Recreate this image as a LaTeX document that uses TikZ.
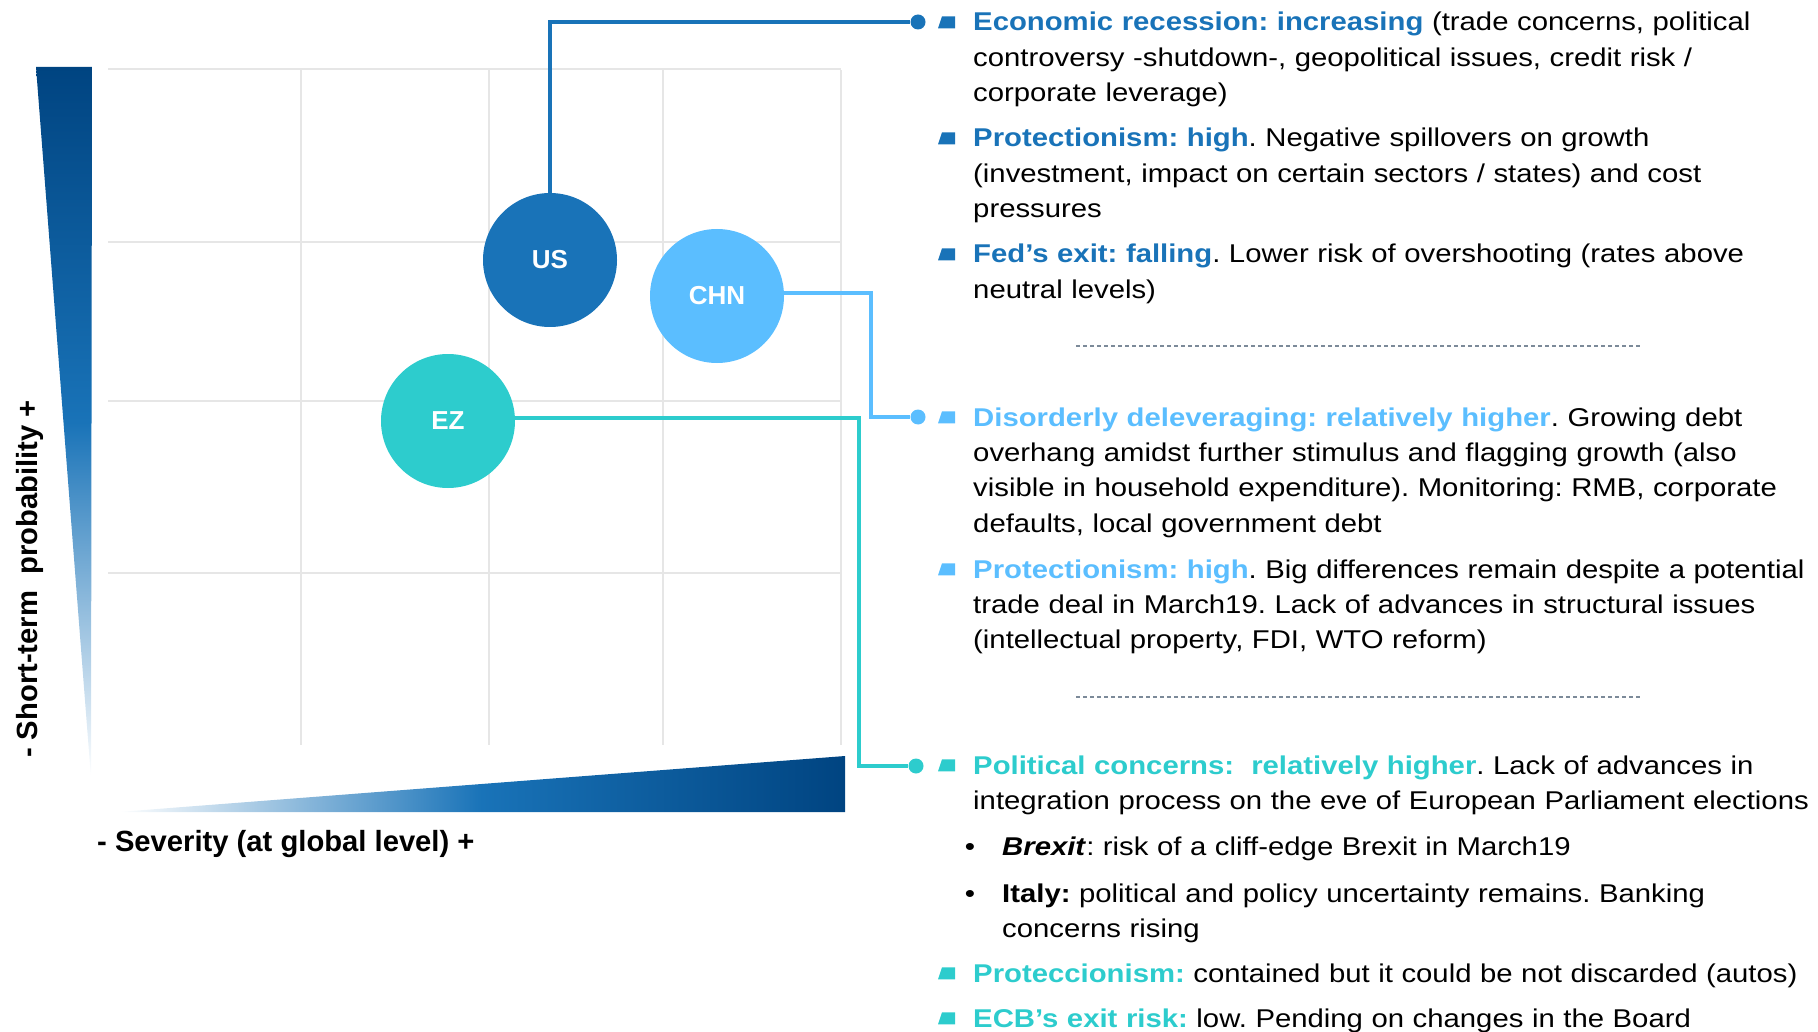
\documentclass[tikz,border=0pt]{standalone}
\usepackage{fontspec}
\setmainfont{Liberation Sans}
\newfontfamily\notefont{Liberation Sans}[FakeStretch=1.14]
\frenchspacing

\definecolor{navy}{HTML}{004481}
\definecolor{usblue}{HTML}{1973B8}
\definecolor{chnblue}{HTML}{5BBEFF}
\definecolor{ezaqua}{HTML}{2DCCCD}
\definecolor{gridgray}{HTML}{E6E6E6}
\definecolor{sepgray}{HTML}{7C8A99}

\tikzset{
  country/.style={circle, minimum size=134pt, inner sep=0pt, text=white,
    font=\fontsize{26}{30}\selectfont\bfseries},
  link/.style={line width=3.5pt},
  dot/.style={circle, fill=#1, minimum size=15pt, inner sep=0pt},
  note/.style={anchor=base west, inner sep=0pt, text width=900pt, align=left,
    font=\notefont\fontsize{25.7}{35.4}\selectfont},
  axislabel/.style={inner sep=0pt, font=\fontsize{29.2}{34}\selectfont\bfseries},
}

\begin{document}
\begin{tikzpicture}[x=1pt, y=-1pt]
\useasboundingbox (0,0) rectangle (1818,1032);

% === Risk map grid ===
\foreach \gy in {69,242,401,573}{
  \draw[gridgray, line width=1.1pt] (108,\gy) -- (841,\gy);
}
\foreach \gx in {301,489,663,841}{
  \draw[gridgray, line width=1.1pt] (\gx,70) -- (\gx,745);
}

% === Axis wedges ===
\shade[top color=navy, bottom color=white, middle color=usblue]
  (36,67) -- (92,67) -- (91,778) -- cycle;
\shade[left color=white, right color=navy, middle color=usblue]
  (118,812) -- (845,812) -- (845,756) -- cycle;

\node[axislabel, rotate=90, anchor=base] (probaxis) at (37,579) {- Short-term\ \ probability +};
\node[axislabel, anchor=base west] (sevaxis) at (97,851) {- Severity (at global level) +};

% === Countries ===
\node[country, fill=usblue]  (US)  at (550,260) {US};
\node[country, fill=chnblue] (CHN) at (717,296) {CHN};
\node[country, fill=ezaqua]  (EZ)  at (448,421) {EZ};

% === Connectors ===
\node[dot=usblue]  (usdot)  at (918,22)  {};
\node[dot=chnblue] (chndot) at (918,417) {};
\node[dot=ezaqua]  (ezdot)  at (916,766) {};
\coordinate (chnbend) at (871,417);
\coordinate (ezbend)  at (859,766);

\draw[link, usblue]  (US.north) |- (usdot);
\draw[link, chnblue] ([yshift=3pt]CHN.east) -| (chnbend) -- (chndot);
\draw[link, ezaqua]  ([yshift=3pt]EZ.east) -| (ezbend) -- (ezdot);

% === US risks ===
\node[note] (us1) at (973,31) {\textcolor{usblue}{\bfseries Economic recession: increasing} (trade concerns, political\\controversy -shutdown-, geopolitical issues, credit risk /\\corporate leverage)};
\node[note] (us2) at (973,147) {\textcolor{usblue}{\bfseries Protectionism: high}. Negative spillovers on growth\\(investment, impact on certain sectors / states) and cost\\pressures};
\node[note] (us3) at (973,263) {\textcolor{usblue}{\bfseries Fed’s exit: falling}. Lower risk of overshooting (rates above\\neutral levels)};

\draw[sepgray, dash pattern=on 4pt off 3pt, line width=1.3pt] (1076,346) -- (1642,346);

% === China risks ===
\node[note] (chn1) at (973,426) {\textcolor{chnblue}{\bfseries Disorderly deleveraging: relatively higher}. Growing debt\\overhang amidst further stimulus and flagging growth (also\\visible in household expenditure). Monitoring: RMB, corporate\\defaults, local government debt};
\node[note] (chn2) at (973,578) {\textcolor{chnblue}{\bfseries Protectionism: high}. Big differences remain despite a potential\\trade deal in March19. Lack of advances in structural issues\\(intellectual property, FDI, WTO reform)};

\draw[sepgray, dash pattern=on 4pt off 3pt, line width=1.3pt] (1076,697) -- (1642,697);

% === Eurozone risks ===
\node[note] (ez1) at (973,774) {\textcolor{ezaqua}{\bfseries Political concerns:\ \ relatively higher}. Lack of advances in\\integration process on the eve of European Parliament elections};
\node[note, anchor=base, text width=] (brexitdot) at (970,855) {•};
\node[note] (brexit) at (1002,855) {\textbf{\textit{Brexit}}: risk of a cliff-edge Brexit in March19};
\node[note, anchor=base, text width=] (italydot) at (970,902) {•};
\node[note] (italy) at (1002,902) {\textbf{Italy:} political and policy uncertainty remains. Banking\\concerns rising};
\node[note] (ez2) at (973,982) {\textcolor{ezaqua}{\bfseries Proteccionism:} contained but it could be not discarded (autos)};
\node[note] (ez3) at (973,1027) {\textcolor{ezaqua}{\bfseries ECB’s exit risk:} low. Pending on changes in the Board};

% === Bullet markers ===
\foreach \para/\col in {us1/usblue, us2/usblue, us3/usblue, chn1/chnblue, chn2/chnblue, ez1/ezaqua, ez2/ezaqua, ez3/ezaqua}{
  \fill[\col] (\para.base west) ++(-35,-2.7) -- ++(17,0) -- ++(0,-12) -- ++(-13,0) -- cycle;
}
\end{tikzpicture}
\end{document}
